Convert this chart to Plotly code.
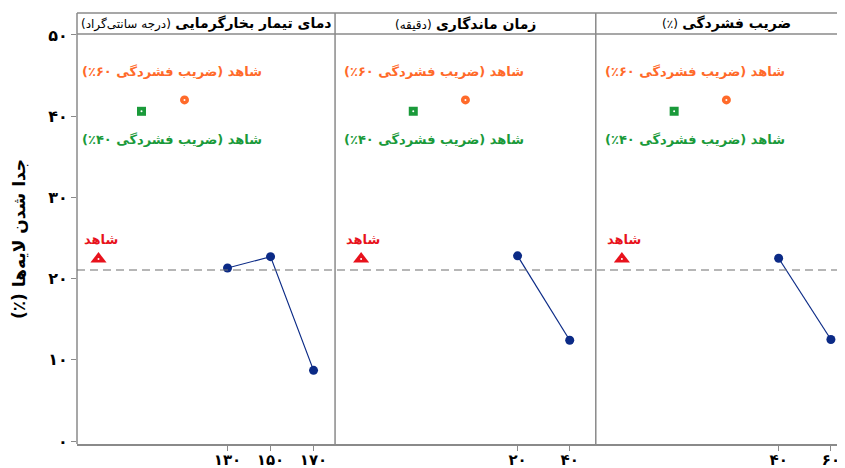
import plotly.graph_objects as go

# --- data ---
factor_names = ["دمای تیمار بخارگرمایی", "زمان ماندگاری", "ضریب فشردگی"]
factor_units = ["(درجه سانتی‌گراد)", "(دقیقه)", "(٪)"]

temp_levels = [130, 150, 170]
temp_ticks = ["۱۳۰", "۱۵۰", "۱۷۰"]
temp_delam = [21.3, 22.7, 8.7]

time_levels = [20, 40]
time_ticks = ["۲۰", "۴۰"]
time_delam = [22.8, 12.4]

cr_levels = [40, 60]
cr_ticks = ["۴۰", "۶۰"]
cr_delam = [22.5, 12.5]

grand_mean = 21.06
control = 22.4
control_cr60 = 42.0
control_cr40 = 40.6

control_labels = ["شاهد", "شاهد (ضریب فشردگی ۶۰٪)", "شاهد (ضریب فشردگی ۴۰٪)"]

y_vals = [0, 10, 20, 30, 40, 50]
y_ticks = ["۰", "۱۰", "۲۰", "۳۰", "۴۰", "۵۰"]
y_title = "جدا شدن لایه‌ها (٪)"

# --- layout / styling ---
FONT = "DejaVu Sans"
NAVY = "#0b2a86"
RED = "#e8121c"
ORANGE = "#ff6a2a"
GREEN = "#1a9a3a"
FRAME = "#8a8a8a"
RLM = "\u200f"


def rtl(s):
    # keep neutral chars (brackets, %) in right-to-left order
    return RLM + s + RLM


panels = [
    ("x", temp_levels, temp_ticks, temp_delam, [60, 180], [0.0, 0.336]),
    ("x2", time_levels, time_ticks, time_delam, [-50, 50], [0.336, 0.6755]),
    ("x3", cr_levels, cr_ticks, cr_delam, [-30, 65.4], [0.6755, 1.0]),
]
strip_top = 1.0512

fig = go.Figure()
annotations = []
shapes = []

for i, (xa, levels, ticks, delam, rng, dom) in enumerate(panels):
    first = levels[0]
    cx = [first - 60, first - 40, first - 20]

    # main effect line
    fig.add_trace(go.Scatter(
        x=levels, y=delam, xaxis=xa, yaxis="y", mode="lines+markers",
        line=dict(color=NAVY, width=1.2),
        marker=dict(color=NAVY, size=9), showlegend=False, hoverinfo="x+y"))

    # control markers
    fig.add_trace(go.Scatter(
        x=[cx[0]], y=[control], xaxis=xa, yaxis="y", mode="markers",
        marker=dict(symbol="triangle-up", color=RED, size=14), showlegend=False))
    fig.add_trace(go.Scatter(
        x=[cx[1]], y=[control_cr40], xaxis=xa, yaxis="y", mode="markers",
        marker=dict(symbol="square", color=GREEN, size=9), showlegend=False))
    fig.add_trace(go.Scatter(
        x=[cx[2]], y=[control_cr60], xaxis=xa, yaxis="y", mode="markers",
        marker=dict(symbol="circle", color=ORANGE, size=9), showlegend=False))
    fig.add_trace(go.Scatter(
        x=cx, y=[control, control_cr40, control_cr60], xaxis=xa, yaxis="y",
        mode="markers", marker=dict(symbol="circle", color="white", size=2,
                                    line=dict(width=0)),
        showlegend=False, hoverinfo="skip"))

    # control labels
    annotations += [
        dict(x=cx[0], y=control, xref=xa, yref="y", text="<b>%s</b>" % rtl(control_labels[0]),
             showarrow=False, xanchor="left", yanchor="middle", xshift=-17, yshift=20,
             font=dict(family=FONT, size=13, color=RED)),
        dict(x=cx[0], y=control_cr60, xref=xa, yref="y", text="<b>%s</b>" % rtl(control_labels[1]),
             showarrow=False, xanchor="left", yanchor="middle", xshift=-19, yshift=28,
             font=dict(family=FONT, size=13, color=ORANGE)),
        dict(x=cx[0], y=control_cr40, xref=xa, yref="y", text="<b>%s</b>" % rtl(control_labels[2]),
             showarrow=False, xanchor="left", yanchor="middle", xshift=-19, yshift=-28,
             font=dict(family=FONT, size=13, color=GREEN)),
    ]

    # strip header
    full_center = (levels[0] - 70 + levels[-1] + 10) / 2
    annotations.append(dict(
        x=full_center, y=(1 + strip_top) / 2, xref=xa, yref="paper",
        text="<b>%s%s</b> <span style='font-size:12px'>%s%s</span>" % (RLM, factor_names[i], factor_units[i], RLM),
        showarrow=False, xanchor="center", yanchor="middle",
        font=dict(family=FONT, size=14, color="black")))

    # panel left border
    shapes.append(dict(type="line", xref="paper", yref="paper", x0=dom[0], x1=dom[0],
                       y0=0, y1=strip_top, line=dict(color=FRAME, width=1.5)))

    axis = dict(domain=dom, range=rng, anchor="y", tickmode="array",
                tickvals=levels, ticktext=["<b>%s</b>" % t for t in ticks],
                ticks="outside", ticklen=5, ticklabelstandoff=-4,
                tickcolor=FRAME, showline=True, linecolor=FRAME, linewidth=1.5,
                showgrid=False, zeroline=False, automargin=False,
                tickfont=dict(family=FONT, size=15, color="black"))
    key = "xaxis" if xa == "x" else "xaxis" + xa[1:]
    fig.update_layout(**{key: axis})

# strip lines and overall mean
shapes += [
    dict(type="line", xref="paper", yref="paper", x0=0, x1=1, y0=1, y1=1,
         line=dict(color=FRAME, width=1.5)),
    dict(type="line", xref="paper", yref="paper", x0=0, x1=1, y0=strip_top, y1=strip_top,
         line=dict(color=FRAME, width=1.5)),
    dict(type="line", xref="paper", yref="y", x0=0, x1=1, y0=grand_mean, y1=grand_mean,
         line=dict(color="#6e6e6e", width=1.2, dash="8px,5px")),
]

# the page body adds an 8px offset, so the figure is 8px smaller than the window
fig.update_layout(
    width=837, height=460,
    margin=dict(l=69, r=0, t=26, b=24),
    paper_bgcolor="white", plot_bgcolor="white",
    yaxis=dict(range=[-0.37, 50.12], tickmode="array", tickvals=y_vals,
               ticktext=["<b>%s</b>" % t for t in y_ticks],
               ticks="outside", ticklen=5, tickcolor=FRAME, showgrid=False, zeroline=False,
               showline=False, automargin=False,
               tickfont=dict(family=FONT, size=16, color="black"),
               title=dict(text="<b>%s</b>" % rtl(y_title), standoff=18,
                          font=dict(family=FONT, size=17, color="black"))),
    annotations=annotations,
    shapes=shapes,
)

fig.write_html("out.html")
